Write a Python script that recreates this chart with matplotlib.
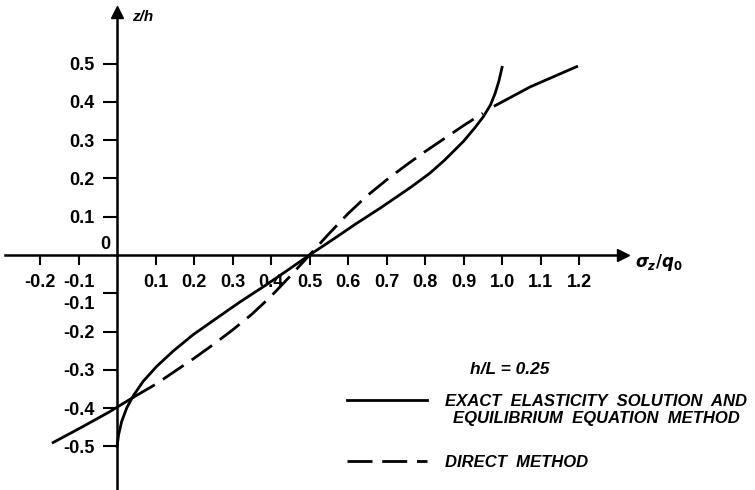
#!/usr/bin/env python3
"""Stress distribution sigma_z/q0 over depth z/h, h/L = 0.25."""
import matplotlib

matplotlib.use("Agg")
import matplotlib.pyplot as plt
from matplotlib.transforms import ScaledTranslation

# exact elasticity solution / equilibrium equation method
exact_sigma = [0.0, 0.004, 0.012, 0.025, 0.042, 0.068, 0.103, 0.146, 0.198, 0.259,
               0.319, 0.38, 0.44, 0.5, 0.56, 0.62, 0.683, 0.74, 0.77, 0.813,
               0.85, 0.9, 0.93, 0.952, 0.97, 0.982, 0.992, 1.0]
exact_z = [-0.5, -0.47, -0.435, -0.4, -0.368, -0.33, -0.291, -0.251, -0.208, -0.165,
           -0.123, -0.083, -0.042, 0.0, 0.04, 0.081, 0.122, 0.161, 0.182, 0.214,
           0.247, 0.297, 0.333, 0.362, 0.392, 0.422, 0.455, 0.49]

# direct method
direct_sigma = [-0.166, -0.09, -0.02, 0.042, 0.1, 0.15, 0.2, 0.25, 0.3, 0.35,
                0.4, 0.45, 0.5, 0.55, 0.6, 0.65, 0.7, 0.75, 0.8, 0.85,
                0.9, 0.95, 0.982, 1.073, 1.194]
direct_z = [-0.49, -0.449, -0.41, -0.372, -0.338, -0.304, -0.27, -0.234, -0.196, -0.155,
            -0.108, -0.055, 0.0, 0.055, 0.108, 0.155, 0.196, 0.234, 0.27, 0.304,
            0.338, 0.37, 0.39, 0.439, 0.492]
# the direct-method line is drawn dashed only between its crossings with the exact curve
cross_lo, cross_hi = 3, 21

x_ticks = [-0.2, -0.1, 0.1, 0.2, 0.3, 0.4, 0.5, 0.6, 0.7, 0.8, 0.9, 1.0, 1.1, 1.2]
x_labels = ["-0.2", "-0.1", "0.1", "0.2", "0.3", "0.4", "0.5", "0.6", "0.7", "0.8",
            "0.9", "1.0", "1.1", "1.2"]
y_ticks = [-0.5, -0.4, -0.3, -0.2, -0.1, 0.1, 0.2, 0.3, 0.4, 0.5]
y_labels = ["-0.5", "-0.4", "-0.3", "-0.2", "-0.1", "0.1", "0.2", "0.3", "0.4", "0.5"]

exact_label = "EXACT  ELASTICITY  SOLUTION  AND\nEQUILIBRIUM  EQUATION  METHOD"
direct_label = "DIRECT  METHOD"


def main():
    plt.rcParams["font.family"] = ["Liberation Sans", "DejaVu Sans"]
    plt.rcParams["font.weight"] = "bold"

    fig = plt.figure(figsize=(7.55, 4.9), dpi=100)
    ax = fig.add_axes([0, 0, 1, 1])
    ax.set_xlim(-0.304, 1.657)
    ax.set_ylim(-0.614, 0.666)

    lw = 2.0
    ax.plot(exact_sigma, exact_z, color="black", lw=lw, label=exact_label)
    ax.plot(direct_sigma[:cross_lo + 1], direct_z[:cross_lo + 1], color="black", lw=lw)
    ax.plot(direct_sigma[cross_lo:cross_hi + 1], direct_z[cross_lo:cross_hi + 1],
            color="black", lw=lw, dashes=(9, 3.5), label=direct_label)
    ax.plot(direct_sigma[cross_hi + 1:], direct_z[cross_hi + 1:], color="black", lw=lw)

    # axes through the origin with arrow heads
    for side in ("top", "right"):
        ax.spines[side].set_visible(False)
    ax.spines["left"].set_position(("data", 0))
    ax.spines["bottom"].set_position(("data", 0))
    ax.spines["left"].set_bounds(-0.62, 0.63)
    ax.spines["bottom"].set_bounds(-0.29, 1.31)
    for side in ("left", "bottom"):
        ax.spines[side].set_linewidth(1.8)
    ax.plot([1.315], [0], marker=">", color="black", ms=8, clip_on=False)
    ax.plot([0], [0.635], marker="^", color="black", ms=8, clip_on=False)

    ax.set_xticks(x_ticks, x_labels)
    ax.set_yticks(y_ticks, y_labels)
    ax.tick_params(axis="x", direction="out", length=7, width=1.5, pad=7, labelsize=13)
    ax.tick_params(axis="y", direction="out", length=10, width=1.5, pad=6, labelsize=13)
    # the -0.1 label on z sits a little lower, clear of the sigma labels
    lab = ax.get_yticklabels()[y_ticks.index(-0.1)]
    lab.set_transform(lab.get_transform() + ScaledTranslation(0, -0.09, fig.dpi_scale_trans))

    ax.text(-0.03, 0.005, "0", fontsize=13, ha="center", va="bottom")
    ax.text(0.04, 0.621, "z/h", fontsize=11, fontstyle="italic", ha="left", va="center")
    ax.text(1.345, -0.02, r"$\sigma_z/q_0$", fontsize=12, ha="left", va="center")
    ax.text(0.917, -0.298, "h/L = 0.25", fontsize=12.5, fontstyle="italic",
            ha="left", va="center")

    fs = 12
    leg = ax.legend(loc="upper left", bbox_to_anchor=(347 / 755, 1 - 394 / 490),
                    bbox_transform=fig.transFigure, frameon=False, borderpad=0,
                    borderaxespad=0, handlelength=4.8, handletextpad=1.1,
                    labelspacing=1.7,
                    prop={"style": "italic", "weight": "bold", "size": fs})
    for t in leg.get_texts():
        t.set_multialignment("center")
    # put the solid sample level with the first line of its two-line label
    h0 = leg.legend_handles[0]
    h0.set_ydata(h0.get_ydata() + 0.65 * fs)

    fig.savefig("out.png", dpi=100)


if __name__ == "__main__":
    main()
